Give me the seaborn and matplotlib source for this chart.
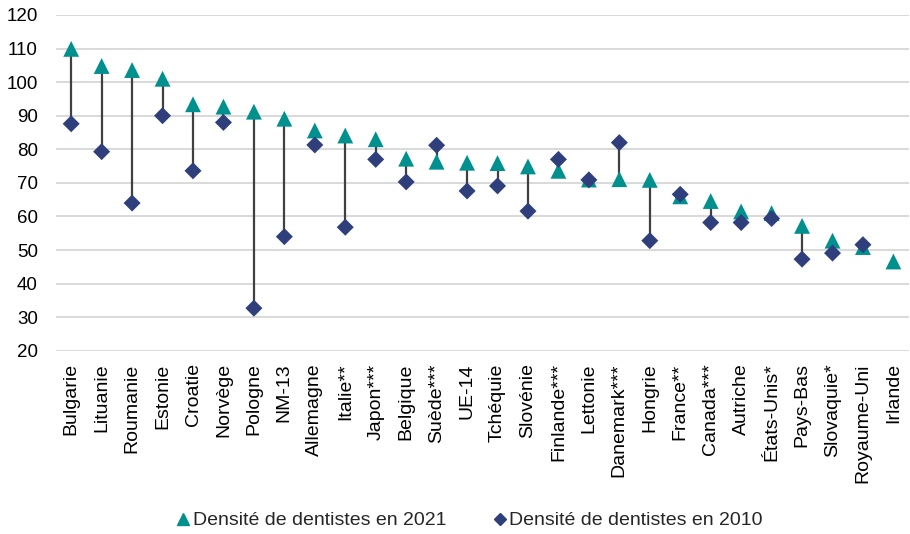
import matplotlib
matplotlib.use("Agg")
import matplotlib.pyplot as plt
import seaborn as sns
import pandas as pd
import numpy as np
from matplotlib.lines import Line2D

pays = ["Bulgarie", "Lituanie", "Roumanie", "Estonie", "Croatie", "Norvège",
        "Pologne", "NM-13", "Allemagne", "Italie**", "Japon***", "Belgique",
        "Suède***", "UE-14", "Tchéquie", "Slovénie", "Finlande***", "Lettonie",
        "Danemark***", "Hongrie", "France**", "Canada***", "Autriche",
        "États-Unis*", "Pays-Bas", "Slovaquie*", "Royaume-Uni", "Irlande"]
densite_2021 = [109.9, 104.8, 103.6, 101.0, 93.4, 92.7, 91.2, 89.1, 85.6, 84.1,
                83.0, 77.2, 76.3, 76.0, 75.9, 74.9, 73.6, 71.0, 71.1, 70.9,
                66.0, 64.6, 61.5, 61.0, 57.2, 52.8, 50.9, 46.6]
densite_2010 = [87.6, 79.3, 64.0, 90.0, 73.6, 88.0, 32.7, 54.0, 81.3, 56.8,
                77.0, 70.3, 81.2, 67.6, 69.1, 61.6, 77.0, 70.9, 82.0, 52.8,
                66.6, 58.2, 58.2, 59.4, 47.3, 49.1, 51.6, np.nan]

lab21 = "Densité de dentistes en 2021"
lab10 = "Densité de dentistes en 2010"
teal = "#00918F"
navy = "#2E3F7C"

df = pd.DataFrame({"pays": pays, "y2021": densite_2021, "y2010": densite_2010})
df["x"] = np.arange(len(df))

sns.set_theme(style="white")
plt.rcParams["font.family"] = ["Liberation Sans", "DejaVu Sans"]

fig = plt.figure(figsize=(9.1, 5.34), dpi=100)
ax = fig.add_axes([0.0615, 0.343, 0.937, 0.629])

# traits entre les deux années
both = df.dropna()
ax.vlines(both["x"], both["y2010"], both["y2021"], color="#404040", lw=1.6, zorder=2)

sns.scatterplot(data=df, x="x", y="y2021", marker="^", s=130, color=teal,
                edgecolor="none", ax=ax, zorder=3)
sns.scatterplot(data=df, x="x", y="y2010", marker="D", s=75, color=navy,
                edgecolor="none", ax=ax, zorder=4)

ax.set_xlim(-0.5, len(pays) - 0.5)
ax.set_ylim(20, 120)
ax.set_yticks(range(20, 121, 10))
ax.set_xticks(df["x"])
ax.set_xticklabels(pays, rotation=90, fontsize=14, color="#000000")
ax.tick_params(axis="y", labelsize=13.5, length=0, pad=13, labelcolor="#000000")
ax.tick_params(axis="x", length=0, pad=9)
ax.yaxis.grid(True, color="#D9D9D9", lw=1.4)
ax.set_axisbelow(True)
for s in ax.spines.values():
    s.set_visible(False)
ax.set_xlabel("")
ax.set_ylabel("")

handles = [Line2D([], [], marker="^", ls="none", color=teal, markersize=8),
           Line2D([], [], marker="D", ls="none", color=navy, markersize=6)]
fig.legend(handles, [lab21, lab10], loc="center", bbox_to_anchor=(0.515, 0.025),
           ncol=2, frameon=False, fontsize=14, handletextpad=0.05,
           columnspacing=2.3, handlelength=0.9)

fig.savefig("out.png", dpi=100)
